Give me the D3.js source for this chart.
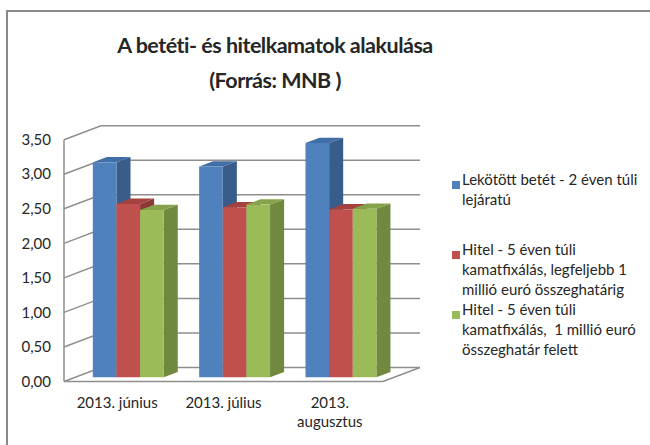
<!DOCTYPE html>
<html>
<head>
<meta charset="utf-8">
<script src="https://cdn.jsdelivr.net/npm/d3@7"></script>
<style>
  body { margin: 0; background: #fff; }
  text { font-family: Lato, "Open Sans", sans-serif; fill: #262626; }
</style>
</head>
<body>
<div id="chart"></div>
<script>
// data
const categories = [["2013. június"], ["2013. július"], ["2013.", "augusztus"]];
const seriesNames = [
  ["Lekötött betét - 2 éven túli", "lejáratú"],
  ["Hitel - 5 éven túli", "kamatfixálás, legfeljebb 1", "millió euró összeghatárig"],
  ["Hitel - 5 éven túli", "kamatfixálás,  1 millió euró", "összeghatár felett"]
];
const deposit = [3.11, 3.05, 3.39];
const loanSmall = [2.51, 2.46, 2.43];
const loanLarge = [2.42, 2.50, 2.44];
const yTicks = [0, 0.5, 1, 1.5, 2, 2.5, 3, 3.5];

const series = [deposit, loanSmall, loanLarge];
const colors = [
  { front: "#4f81bd", side: "#385d8a", top: "#416ea6" },
  { front: "#c0504d", side: "#8c3836", top: "#a5423f" },
  { front: "#9bbb59", side: "#71893f", top: "#86a34b" }
];

const width = 650, height = 445;
const svg = d3.select("#chart").append("svg")
  .attr("width", width).attr("height", height);

// outer frame
svg.append("rect")
  .attr("x", 7).attr("y", 11).attr("width", 700).attr("height", 500)
  .attr("fill", "none").attr("stroke", "#8a8a8a").attr("stroke-width", 2);

// title
svg.append("text").attr("x", 275).attr("y", 53).attr("text-anchor", "middle")
  .attr("font-size", 21.5).attr("font-weight", "bold").attr("letter-spacing", -0.5)
  .text("A betéti- és hitelkamatok alakulása");
svg.append("text").attr("x", 275).attr("y", 88).attr("text-anchor", "middle")
  .attr("font-size", 21.5).attr("font-weight", "bold").attr("letter-spacing", -0.5)
  .text("(Forrás: MNB )");

// 3d frame: front plane x/y, depth shifts right/up
const depth = { dx: 37, dy: -14 };
const x = d3.scaleBand().domain(categories.map(c => c.join(" ")))
  .range([64, 383]).paddingInner(1 / 3).paddingOuter(1 / 6);
const xs = d3.scaleBand().domain(d3.range(series.length)).range([0, x.bandwidth()]);
const y = d3.scaleLinear().domain([0, 3.5]).range([381.5, 139.7]);

const P = (px, v, z) => [px + depth.dx * z, y(v) + depth.dy * z];
const poly = pts => "M" + pts.map(p => p.join(",")).join("L") + "Z";

const gridColor = "#8e8e8e";
const x0 = 64, x1 = 383;

// walls and gridlines
yTicks.forEach(t => {
  const a = P(x0, t, 0), b = P(x0, t, 1), c = P(x1, t, 1);
  svg.append("path").attr("d", `M${a}L${b}L${c}`)
    .attr("fill", "none").attr("stroke", gridColor).attr("stroke-width", 1.5);
});
svg.append("line")
  .attr("x1", x0).attr("y1", y(0)).attr("x2", x0).attr("y2", y(3.5))
  .attr("stroke", gridColor).attr("stroke-width", 1.5);
// floor
svg.append("path")
  .attr("d", `M${P(x0, 0, 0)}L${P(x1, 0, 0)}L${P(x1, 0, 1)}`)
  .attr("fill", "none").attr("stroke", gridColor).attr("stroke-width", 1.5);

// y labels
svg.selectAll(".ylab").data(yTicks).join("text")
  .attr("class", "ylab")
  .attr("x", 51).attr("y", d => y(d)).attr("dy", "0.35em")
  .attr("text-anchor", "end").attr("font-size", 15)
  .text(d => d3.format(".2f")(d).replace(".", ","));

// bars (drawn left to right so later fronts cover earlier sides)
const z0 = 0.3, z1 = 0.68;
const bars = [];
categories.forEach((c, ci) => {
  series.forEach((s, si) => {
    bars.push({ cat: c.join(" "), si, v: s[ci] });
  });
});
const barG = svg.append("g");
bars.forEach(d => {
  const l = x(d.cat) + xs(d.si), r = l + xs.bandwidth();
  const col = colors[d.si];
  const g = barG.append("g");
  g.append("path").attr("fill", col.side)
    .attr("d", poly([P(r, 0, z0), P(r, 0, z1), P(r, d.v, z1), P(r, d.v, z0)]));
  g.append("path").attr("fill", col.top)
    .attr("d", poly([P(l, d.v, z0), P(r, d.v, z0), P(r, d.v, z1), P(l, d.v, z1)]));
  g.append("path").attr("fill", col.front)
    .attr("d", poly([P(l, 0, z0), P(r, 0, z0), P(r, d.v, z0), P(l, d.v, z0)]));
});

// category labels
categories.forEach(c => {
  const cx = x(c.join(" ")) + x.bandwidth() / 2;
  const t = svg.append("text").attr("x", cx).attr("y", 408)
    .attr("text-anchor", "middle").attr("font-size", 15);
  c.forEach((line, i) => t.append("tspan").attr("x", cx).attr("dy", i ? 19 : 0).text(line));
});

// legend
const legendY = [185, 255, 315];
seriesNames.forEach((lines, i) => {
  svg.append("rect").attr("x", 452).attr("y", legendY[i] - 4)
    .attr("width", 8).attr("height", 8).attr("fill", colors[i].front);
  const t = svg.append("text").attr("x", 462).attr("y", legendY[i]).attr("dy", "0.35em")
    .attr("font-size", 15);
  lines.forEach((line, j) => t.append("tspan").attr("x", 462).attr("dy", j ? 20 : 0)
    .attr("xml:space", "preserve").text(line));
});
</script>
</body>
</html>
